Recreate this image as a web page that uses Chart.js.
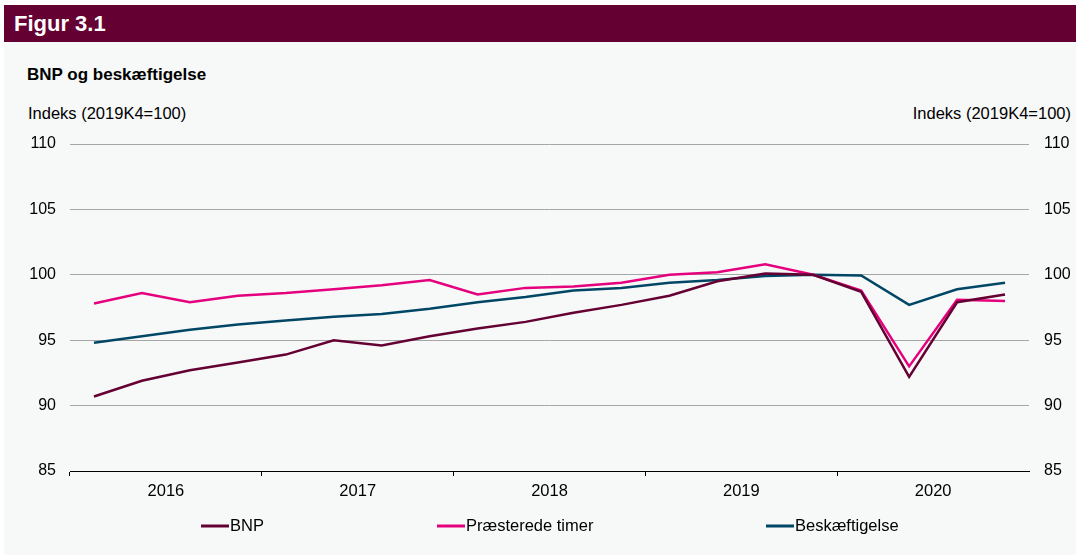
<!DOCTYPE html>
<html>
<head>
<meta charset="utf-8">
<script src="https://cdn.jsdelivr.net/npm/chart.js@4"></script>
<style>
  body { margin: 0; background: #fff; font-family: "Liberation Sans", Arial, sans-serif; }
  .panel { position: absolute; left: 4px; top: 5px; width: 1072px; height: 550px; background: #f7f8f8; }
  .header { position: absolute; left: 0; top: 0; width: 100%; height: 37px; background: #650033; }
  .header span { position: absolute; left: 10px; top: 6px; color: #fff; font-weight: bold; font-size: 22px; }
  .title { position: absolute; left: 23px; top: 60px; font-weight: bold; font-size: 17px; color: #000; }
  .unit { position: absolute; top: 99px; font-size: 16.5px; color: #000; }
  #wrap { position: absolute; left: 0; top: 0; width: 1079px; height: 555px; }
</style>
</head>
<body>
<div class="panel">
  <div class="header"><span>Figur 3.1</span></div>
  <div class="title">BNP og beskæftigelse</div>
  <div class="unit" style="left:24px">Indeks (2019K4=100)</div>
  <div class="unit" style="right:5px">Indeks (2019K4=100)</div>
</div>
<div id="wrap"><canvas id="chart"></canvas></div>
<script>
// kvartaler 2016K1 - 2020K4
const years = ["2016", "2017", "2018", "2019", "2020"];
const quarters = ["K1", "K2", "K3", "K4"];
const labels = years.flatMap((y) => quarters.map((q) => y + q));

const bnp = [90.7, 91.9, 92.7, 93.3, 93.9, 95.0, 94.6, 95.3, 95.9, 96.4,
  97.1, 97.7, 98.4, 99.5, 100.1, 100.0, 98.7, 92.2, 97.9, 98.5];
const timer = [97.8, 98.6, 97.9, 98.4, 98.6, 98.9, 99.2, 99.6, 98.5, 99.0,
  99.1, 99.4, 100.0, 100.2, 100.8, 100.0, 98.8, 93.0, 98.1, 98.0];
const beskaeft = [94.8, 95.3, 95.8, 96.2, 96.5, 96.8, 97.0, 97.4, 97.9, 98.3,
  98.8, 99.0, 99.4, 99.6, 99.9, 100.0, 99.95, 97.7, 98.9, 99.4];

const yTicks = [85, 90, 95, 100, 105, 110];
const legendX = [201, 437, 766];

const legendPlugin = {
  id: "customLegend",
  afterDraw(chart) {
    const ctx = chart.ctx;
    ctx.save();
    ctx.font = "16.5px 'Liberation Sans', Arial, sans-serif";
    ctx.textBaseline = "middle";
    chart.data.datasets.forEach((ds, i) => {
      const x = legendX[i];
      const y = 526;
      ctx.strokeStyle = ds.borderColor;
      ctx.lineWidth = 3;
      ctx.beginPath();
      ctx.moveTo(x, y);
      ctx.lineTo(x + 28, y);
      ctx.stroke();
      ctx.fillStyle = "#000";
      ctx.fillText(ds.label, x + 29, y);
    });
    ctx.restore();
  },
};

const yScale = (pos, pad) => ({
  type: "linear",
  position: pos,
  min: 85,
  max: 110,
  afterBuildTicks: (scale) => {
    scale.ticks = yTicks.map((v) => ({ value: v }));
  },
  afterFit: (scale) => {
    scale.width = pos === "left" ? 70 : 50;
  },
  grid: {
    display: pos === "left",
    drawTicks: false,
    color: (c) => (c.tick && c.tick.value === 85 ? "rgba(0,0,0,0)" : "#a6a6a6"),
    lineWidth: 1,
  },
  border: { display: false },
  ticks: {
    padding: pad,
    color: "#000",
    font: { family: "'Liberation Sans', Arial, sans-serif", size: 16 },
  },
});

new Chart(document.getElementById("chart"), {
  type: "line",
  data: {
    labels: labels,
    datasets: [
      { label: "BNP", data: bnp, borderColor: "#650033" },
      { label: "Præsterede timer", data: timer, borderColor: "#e5007d" },
      { label: "Beskæftigelse", data: beskaeft, borderColor: "#004766" },
    ],
  },
  options: {
    responsive: true,
    maintainAspectRatio: false,
    animation: false,
    layout: { padding: { top: 144, left: 0, right: 0, bottom: 0 } },
    elements: {
      point: { radius: 0 },
      line: { borderWidth: 2.5, tension: 0, fill: false },
    },
    plugins: { legend: { display: false }, tooltip: { enabled: false } },
    scales: {
      x: {
        offset: true,
        afterFit: (scale) => {
          scale.height = 84;
        },
        grid: {
          offset: true,
          drawOnChartArea: false,
          tickLength: 5,
          tickColor: (c) => (c.index % 4 === 0 ? "#000" : "rgba(0,0,0,0)"),
        },
        border: { display: true, color: "#000", width: 1 },
        ticks: {
          autoSkip: false,
          maxRotation: 0,
          padding: 6,
          labelOffset: 24,
          color: "#000",
          font: { family: "'Liberation Sans', Arial, sans-serif", size: 16.5 },
          callback: (v, i) => (i % 4 === 1 ? labels[i].slice(0, 4) : ""),
        },
      },
      y: yScale("left", 14),
      y2: yScale("right", 15),
    },
  },
  plugins: [legendPlugin],
});
</script>
</body>
</html>
